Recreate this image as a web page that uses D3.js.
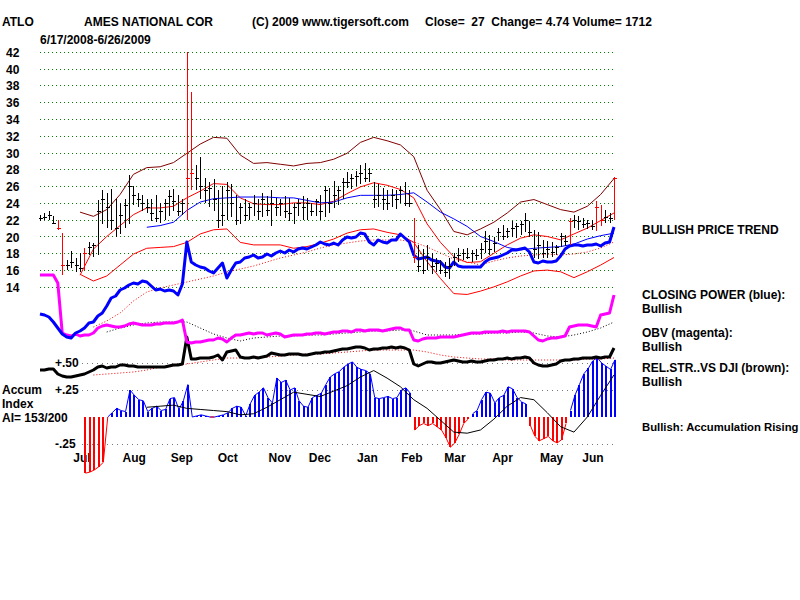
<!DOCTYPE html>
<html>
<head>
<meta charset="utf-8">
<script src="https://cdn.jsdelivr.net/npm/d3@7"></script>
<style>
  body { margin: 0; background: #fff; }
  text { font-family: "Liberation Sans", Arial, sans-serif; font-weight: bold; font-size: 12px; fill: #000; }
</style>
</head>
<body>
<div id="container"></div>
<script>
// daily bars (one per 2 trading days), 6/17/2008 - 6/26/2009
let hi = [22.6,22.8,23.0,22.4,22.0,20.4,17.2,18.3,17.5,18.0,
  18.6,19.3,19.2,24.3,25.5,25.2,25.6,24.5,24.0,24.5,
  27.3,26.0,25.2,24.9,24.5,24.5,24.9,24.0,24.5,25.5,
  25.6,25.0,24.5,42.0,37.2,28.5,29.5,27.0,26.5,26.8,
  25.5,26.0,26.5,26.2,25.0,24.0,24.5,24.0,25.0,24.5,
  25.2,24.8,25.5,24.6,24.5,24.8,24.6,24.0,24.5,24.8,
  24.6,24.0,24.5,25.0,26.0,25.8,26.6,26.0,27.0,27.7,
  27.5,27.8,28.5,28.8,28.2,26.5,26.3,25.8,25.5,25.7,
  25.5,26.0,26.5,25.5,22.2,19.0,18.5,19.0,18.0,17.5,
  17.2,17.0,17.5,18.0,18.6,18.5,18.6,18.4,18.5,19.2,
  20.6,20.2,20.0,21.0,21.4,21.0,21.8,21.6,21.8,22.8,
  21.8,20.8,20.5,19.6,19.5,19.3,19.0,20.4,20.2,22.2,
  22.6,22.5,22.2,22.0,22.0,24.2,23.8,23.2,22.8,27.1]
let lo = [21.8,22.0,22.0,21.5,20.8,15.4,16.0,16.2,15.8,15.8,
  16.0,17.8,17.6,17.8,21.5,21.0,20.8,20.0,20.3,21.0,
  21.5,23.8,23.5,23.0,22.8,21.8,21.7,21.6,22.0,22.5,
  23.0,22.5,22.6,22.0,25.5,25.5,24.5,24.0,23.5,23.0,
  21.0,21.2,22.0,22.3,21.4,21.5,21.8,22.0,22.5,22.0,
  22.3,22.5,21.3,22.5,22.5,22.2,21.8,21.5,22.5,22.0,
  22.0,22.5,22.5,22.0,22.3,22.8,23.4,23.7,24.5,25.8,
  25.7,26.0,26.3,26.5,26.5,23.4,23.5,23.2,23.2,23.5,
  23.3,24.0,23.6,23.5,16.8,15.8,15.5,16.0,15.5,15.8,
  15.5,15.2,15.0,16.5,17.0,17.2,17.3,17.0,17.2,17.3,
  18.0,17.8,18.2,19.5,19.6,19.8,20.0,19.8,20.2,20.5,
  20.0,17.5,17.3,17.5,17.4,17.6,17.8,18.8,18.9,19.0,
  21.0,20.8,21.0,20.9,20.8,20.6,21.2,21.6,21.6,22.0]
let cl = [22.2,22.3,22.5,21.6,21.0,16.6,16.6,17.0,16.6,16.2,
  18.0,18.8,19.0,23.0,24.5,23.5,22.0,21.0,22.5,23.8,
  26.0,25.0,24.5,24.0,23.5,22.8,22.2,23.0,24.0,24.8,
  24.2,23.0,24.0,27.0,27.5,27.0,26.0,25.5,25.8,24.5,
  22.0,22.5,25.5,24.0,22.0,23.5,22.5,23.5,24.0,23.0,
  24.5,23.2,24.0,23.5,24.0,23.0,22.8,23.5,24.0,23.5,
  24.0,23.0,24.2,23.0,25.5,24.0,25.0,25.5,26.5,26.5,
  27.0,27.2,27.5,27.0,27.5,24.5,25.0,24.5,24.0,25.0,
  24.5,25.5,24.0,24.0,17.5,16.5,16.0,17.5,16.5,16.8,
  16.0,15.8,16.5,17.5,17.8,18.0,17.6,18.0,17.8,18.5,
  19.5,18.5,19.2,20.5,20.0,20.6,21.0,21.2,21.5,22.0,
  20.5,18.5,19.0,18.0,18.5,18.2,18.8,20.0,19.5,21.8,
  22.0,21.8,21.5,21.6,21.2,23.5,22.0,22.3,22.26,27.0]
let redBars = [4, 5, 10, 33, 34, 84, 119, 125, 126, 129]

// indicators, same days as bars
let closingPower = [31,30,28,23,17,11,8,7,12,14,
  17,22,23,29,32,39,47,49,55,57,
  60,62,61,64,63,59,55,56,54,55,
  54,50,61,103,83,80,78,77,74,72,
  77,82,67,75,82,83,87,88,90,87,
  88,91,89,92,94,92,95,93,96,97,
  96,98,100,103,101,100,102,100,105,108,
  107,108,112,111,103,100,105,103,102,105,
  105,111,107,103,90,86,87,88,85,84,
  83,78,77,83,79,78,78,78,78,78,
  83,86,87,88,90,92,95,95,96,97,
  93,83,82,84,83,83,84,89,96,99,
  100,100,99,100,100,101,99,102,103,118]
let obv = [70,70,70,70,62,12,10,9,11,9,
  10,10,12,17,19,20,19,18,18,19,
  21,22,21,20,20,20,21,21,22,22,
  22,23,25,3,2,3,3,4,5,5,
  7,6,3,7,10,10,11,12,11,12,
  12,10,11,12,11,8,9,10,10,10,
  11,11,12,12,11,12,13,13,14,14,
  13,15,15,14,15,15,15,14,15,16,
  17,17,15,15,5,4,6,7,7,7,
  8,8,8,8,9,10,11,12,12,12,
  13,13,13,13,14,13,14,14,14,14,
  13,9,5,4,6,7,7,8,9,18,
  19,20,20,20,19,18,30,31,32,50]
let relStr = [10,10,11,11,6,4,3,3,4,5,
  6,8,10,13,14,12,13,13,15,15,
  14,14,13,13,13,13,13,13,13,14,
  15,15,16,43,21,21,22,22,22,23,
  25,20,28,29,30,23,22,22,23,22,
  23,24,27,26,25,25,26,26,26,25,
  25,26,27,27,28,28,29,30,31,31,
  32,33,33,32,30,31,31,32,32,33,
  32,33,32,30,16,14,16,18,18,17,
  17,18,19,20,19,18,18,19,18,18,
  19,20,20,21,21,22,21,22,22,23,
  22,17,15,14,14,15,16,19,20,20,
  21,21,22,22,22,23,22,23,23,32]
let accum = [null,null,null,null,null,null,null,null,null,null,
  -0.52,-0.51,-0.49,-0.46,-0.42,0.0,0.04,0.08,0.06,0.05,
  0.25,0.2,0.16,0.15,0.05,0.08,0.1,0.06,0.07,0.17,
  0.18,0.07,0.15,0.3,0.0,0.01,0.02,0.01,0.0,0.0,
  0.01,0.02,0.04,0.08,0.1,0.09,0.01,0.12,0.2,0.23,
  0.27,0.18,0.13,0.36,0.32,0.34,0.25,0.27,0.15,0.1,
  0.09,0.18,0.2,0.22,0.3,0.37,0.4,0.42,0.46,0.49,
  0.51,0.46,0.44,0.43,0.4,0.18,0.17,0.18,0.19,0.17,
  0.18,0.25,0.27,0.22,-0.12,-0.08,-0.06,-0.08,-0.06,-0.09,
  -0.12,-0.19,-0.28,-0.24,-0.16,-0.06,-0.02,0.03,0.06,0.16,
  0.23,0.22,0.13,0.18,0.2,0.28,0.26,0.18,0.14,0.12,
  -0.08,-0.18,-0.22,-0.2,-0.18,-0.22,-0.24,-0.21,-0.06,0.06,
  0.2,0.3,0.4,0.45,0.52,0.55,0.5,0.47,0.44,0.53]

// moving averages, every 3rd day
let upperBand = [null,null,null,22.9,22.4,23.2,25.0,27.4,28.2,28.3,
  28.8,29.9,31.0,31.8,31.7,29.7,28.7,28.8,28.6,28.4,
  28.7,28.8,29.2,29.9,31.2,31.8,31.4,30.9,29.5,25.5,
  23.2,20.6,20.2,20.9,21.7,22.8,24.1,24.4,23.8,23.2,
  22.9,23.6,25.0,26.9]
let lowerBand = [null,null,null,15.5,14.7,15.3,16.6,17.9,18.6,18.7,
  18.8,19.3,20.3,20.8,20.9,19.3,19.0,19.0,19.0,18.6,
  18.8,19.2,19.7,20.4,20.8,20.9,20.5,20.2,19.3,17.0,
  15.0,13.2,13.1,13.5,14.0,14.6,15.3,15.9,16.0,15.8,
  15.1,15.8,16.6,17.5]
let ma21 = [null,null,null,15.4,18.5,20.0,21.3,22.6,23.4,23.4,
  23.6,24.6,25.4,26.3,26.2,24.6,23.9,23.8,23.8,24.0,
  24.0,23.8,24.2,25.1,25.9,26.4,26.1,25.6,24.6,21.5,
  19.3,17.6,16.9,17.0,18.0,19.0,19.8,20.2,20.0,19.6,
  20.3,21.0,21.9,22.8]
let ma50 = [null,null,null,null,null,null,null,null,21.1,21.3,
  21.7,23.1,24.1,24.5,24.6,24.7,24.7,24.7,24.6,24.6,
  24.3,24.0,24.1,24.6,24.9,24.9,24.9,25.0,25.2,24.1,
  22.9,22.1,21.2,20.0,19.4,18.7,18.4,18.6,18.7,18.8,
  19.1,19.7,20.1,20.4]
let cpMA = [null,null,null,null,18,24,32,44,53,57,
  60,63,66,69,73,76,79,83,87,90,
  93,97,100,102,104,105,105,105,103,98,
  92,86,83,80,84,87,89,90,91,90,
  91,93,97,103]
let obvMA = [null,null,null,null,null,13,17,20,22,23,
  23,23,17,11,7,4,7,8,9,9,
  10,10,11,12,13,14,14,15,14,10,
  10,10,11,11,12,12,13,12,9,8,
  10,13,17,23]
let rsMA = [null,null,null,null,5,6,7,8,10,13,
  14,16,18,20,22,22,23,23,24,25,
  26,26,27,28,29,30,30,30,30,28,
  25,23,22,21,21,20,20,20,20,20,
  20,21,21,22]
let aiMA = [null,null,null,null,null,null,null,null,0.09,0.1,
  0.11,0.08,0.07,0.06,0.05,0.02,0.03,0.09,0.16,0.23,
  0.21,0.19,0.24,0.29,0.37,0.43,0.36,0.28,0.16,0.08,
  -0.03,-0.14,-0.15,-0.12,-0.02,0.1,0.18,0.16,0.04,-0.09,
  -0.14,0.0,0.2,0.39]
let maStep = 3

// tick labels
let priceTicks = d3.range(14, 43, 2)
let monthNames = ['Jul','Aug','Sep','Oct','Nov','Dec','Jan','Feb','Mar','Apr','May','Jun']
let monthDates = ['2008-07-14','2008-08-17','2008-09-17','2008-10-17','2008-11-20','2008-12-16',
  '2009-01-16','2009-02-14','2009-03-14','2009-04-14','2009-05-16','2009-06-12']
let aiTicks = [0.5, 0.25, -0.25]
let aiTickLabels = ['+.50', '+.25', '-.25']

let svg = d3.select('#container')
  .append('svg')
  .attr('width', 800)
  .attr('height', 600)
  .style('background', '#fff')

let n = cl.length
let x = d3.scaleLinear().domain([0, n - 1]).range([40, 614])
let xDate = d3.scaleTime()
  .domain([new Date(2008, 5, 17), new Date(2009, 5, 26)])
  .range([40, 614])
let y = d3.scaleLinear().domain([14, 42]).range([286.9, 51.7])
let yCP = d3.scaleLinear().domain([0, 120]).range([345, 225])
let yOBV = d3.scaleLinear().domain([0, 100]).range([345, 245])
let yRS = d3.scaleLinear().domain([0, 40]).range([380, 340])
let yAI = d3.scaleLinear().domain([-0.25, 0.5]).range([444, 363])

// header
svg.append('text').attr('x', 2).attr('y', 26).text('ATLO')
svg.append('text').attr('x', 84).attr('y', 26).text('AMES NATIONAL COR')
svg.append('text').attr('x', 252).attr('y', 26).text('(C) 2009 www.tigersoft.com')
svg.append('text').attr('x', 425).attr('y', 26).attr('xml:space', 'preserve')
  .text('Close=  27  Change= 4.74 Volume= 1712')
svg.append('text').attr('x', 40).attr('y', 44).text('6/17/2008-6/26/2009')

// price grid
svg.append('g').selectAll('line')
  .data(priceTicks).enter().append('line')
  .attr('x1', 40).attr('x2', 614)
  .attr('y1', d => Math.round(y(d)) + 0.5).attr('y2', d => Math.round(y(d)) + 0.5)
  .style('stroke', '#008000').style('stroke-dasharray', '1,3')
svg.append('g').selectAll('text')
  .data(priceTicks).enter().append('text')
  .attr('x', 6).attr('y', d => y(d) + 5)
  .text(d => d)

// AI reference lines
svg.append('g').selectAll('line')
  .data(aiTicks).enter().append('line')
  .attr('x1', 82).attr('x2', 614)
  .attr('y1', d => Math.round(yAI(d)) + 0.5).attr('y2', d => Math.round(yAI(d)) + 0.5)
  .style('stroke', '#777').style('stroke-dasharray', '1,4')
svg.append('g').selectAll('text')
  .data(aiTicks).enter().append('text')
  .attr('x', 55).attr('y', d => yAI(d) + 4)
  .text((d, i) => aiTickLabels[i])

// month axis
let xAxis = d3.axisBottom(xDate)
  .tickValues(monthDates.map(d => new Date(d + 'T00:00:00')))
  .tickFormat((d, i) => monthNames[i])
  .tickSize(0)
let ax = svg.append('g').attr('transform', 'translate(0,450)').call(xAxis)
ax.select('.domain').remove()
ax.selectAll('text').attr('class', null).attr('dy', null).attr('y', 12)
  .style('font-family', '"Liberation Sans", Arial, sans-serif')
  .style('font-weight', 'bold').style('font-size', '12px').style('fill', '#000')

// accumulation index bars
let aiIdx = d3.range(n).filter(i => accum[i] != null)
svg.append('g').selectAll('line')
  .data(aiIdx).enter().append('line')
  .attr('x1', i => Math.round(x(i)) + 1).attr('x2', i => Math.round(x(i)) + 1)
  .attr('y1', yAI(0)).attr('y2', i => yAI(accum[i]))
  .style('stroke', i => accum[i] < 0 ? '#ff0000' : '#0000ff')
  .style('stroke-width', 2)
  .style('shape-rendering', 'crispEdges')
// outline along bar tops, coloured by sign
let aiTop = d3.line().x(i => x(i) + 1).y(i => yAI(accum[i]))
svg.append('path')
  .attr('d', aiTop.defined(i => accum[i] != null && accum[i] >= 0)(d3.range(n)))
  .style('fill', 'none').style('stroke', '#0000ff').style('stroke-width', 1)
svg.append('path')
  .attr('d', aiTop.defined(i => accum[i] != null && accum[i] <= 0)(d3.range(n)))
  .style('fill', 'none').style('stroke', '#ff0000').style('stroke-width', 1)

// line helpers
function dailyLine(vals, ys) {
  return d3.line().defined(i => vals[i] != null).x(i => x(i)).y(i => ys(vals[i]))(d3.range(vals.length))
}
function maLine(vals, ys) {
  return d3.line().defined(k => vals[k] != null).x(k => x(k * maStep)).y(k => ys(vals[k]))(d3.range(vals.length))
}
function addPath(d, color, w, dash) {
  let p = svg.append('path').attr('d', d)
    .style('fill', 'none').style('stroke', color).style('stroke-width', w)
    .style('stroke-linejoin', 'round')
  if (dash) p.style('stroke-dasharray', dash)
  return p
}

// indicator panels
addPath(maLine(aiMA, yAI), '#000', 1)
addPath(maLine(rsMA, yRS), '#ff0000', 1, '1,2')
addPath(dailyLine(relStr, yRS), '#000', 3)
addPath(maLine(obvMA, yOBV), '#000', 1, '1,2')
addPath(dailyLine(obv, yOBV), '#ff00ff', 3)

// bollinger bands and averages
addPath(maLine(upperBand, y), '#800000', 1)
addPath(maLine(lowerBand, y), '#ff0000', 1)
addPath(maLine(ma21, y), '#ff0000', 1)
addPath(maLine(ma50, y), '#0000ff', 1)
addPath(maLine(cpMA, yCP), '#ff0000', 1, '1,2')
addPath(dailyLine(closingPower, yCP), '#0000ff', 3)

// price bars
let bars = svg.append('g').selectAll('g')
  .data(d3.range(n)).enter().append('g')
  .attr('transform', i => 'translate(' + (Math.round(x(i)) + 0.5) + ',0)')
  .style('stroke', i => redBars.includes(i) ? '#ff0000' : '#000')
  .style('shape-rendering', 'crispEdges')
bars.append('line')
  .attr('x1', 0).attr('x2', 0)
  .attr('y1', i => y(hi[i])).attr('y2', i => y(lo[i]))
bars.append('line')
  .attr('x1', -2).attr('x2', 2)
  .attr('y1', i => Math.round(y(cl[i])) + 0.5).attr('y2', i => Math.round(y(cl[i])) + 0.5)

// left labels
svg.append('text').attr('x', 2).attr('y', 394).text('Accum')
svg.append('text').attr('x', 2).attr('y', 408).text('Index')
svg.append('text').attr('x', 2).attr('y', 422).text('AI= 153/200')

// right side notes
let notes = [
  ['BULLISH PRICE TREND', 234],
  ['CLOSING POWER (blue):', 299],
  ['Bullish', 313],
  ['OBV (magenta):', 337],
  ['Bullish', 351],
  ['REL.STR..VS DJI (brown):', 372],
  ['Bullish', 386],
  ['Bullish: Accumulation Rising', 431]
]
svg.append('g').selectAll('text')
  .data(notes).enter().append('text')
  .attr('x', 642).attr('y', d => d[1])
  .style('font-size', d => d[0].length > 24 ? '11.3px' : null)
  .text(d => d[0])
</script>
</body>
</html>
